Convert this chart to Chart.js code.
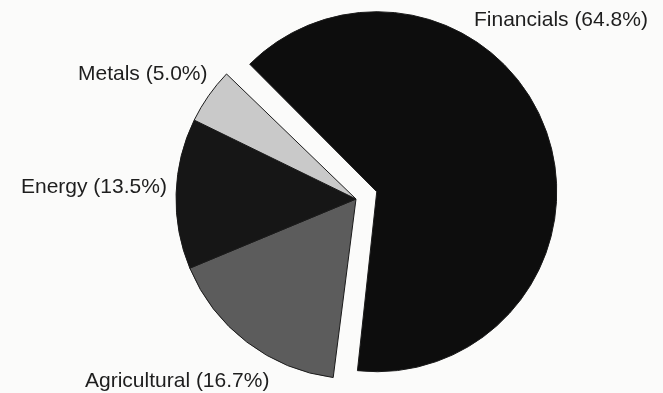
<!DOCTYPE html>
<html>
<head>
<meta charset="utf-8">
<script src="https://cdn.jsdelivr.net/npm/chart.js@4/dist/chart.umd.min.js"></script>
<style>
  html, body { margin: 0; padding: 0; background: #fbfbfa; }
  #wrap { width: 663px; height: 393px; position: relative; }
</style>
</head>
<body>
<div id="wrap"><canvas id="c"></canvas></div>
<script>
// ---- Data ----
const categories = ["Financials", "Agricultural", "Energy", "Metals"];
const shares = [64.8, 16.7, 13.5, 5.0];
const labelTexts = ["Financials (64.8%)", "Agricultural (16.7%)", "Energy (13.5%)", "Metals (5.0%)"];

// ---- Styling ----
const sliceColors = ["#0d0d0d", "#5c5c5c", "#161616", "#c9c9c9"];
const sliceOffsets = [88, 0, 0, 0];
const labelSpots = [
  { x: 474, y: 26 },
  { x: 85,  y: 387 },
  { x: 21,  y: 193 },
  { x: 78,  y: 80 }
];

// Chart.js grows an offset slice's radius by offset/4; keep the exploded slice the same size as the others.
const equalRadiusPlugin = {
  id: "equalRadius",
  beforeDatasetsDraw(chart) {
    const meta = chart.getDatasetMeta(0);
    const base = meta.controller.outerRadius;
    meta.data.forEach((arc, i) => {
      arc.outerRadius = base - (sliceOffsets[i] || 0) / 4;
    });
  }
};

const labelPlugin = {
  id: "sliceLabels",
  afterDraw(chart) {
    const ctx = chart.ctx;
    ctx.save();
    ctx.font = '21px "Liberation Sans", Arial, sans-serif';
    ctx.fillStyle = "#1e1e1e";
    ctx.textAlign = "left";
    ctx.textBaseline = "alphabetic";
    labelTexts.forEach((t, i) => {
      ctx.fillText(t, labelSpots[i].x, labelSpots[i].y);
    });
    ctx.restore();
  }
};

new Chart(document.getElementById("c"), {
  type: "pie",
  data: {
    labels: categories,
    datasets: [{
      data: shares,
      backgroundColor: sliceColors,
      borderColor: "#1a1a1a",
      borderWidth: 1,
      offset: sliceOffsets,
      hoverOffset: 0
    }]
  },
  options: {
    responsive: true,
    maintainAspectRatio: false,
    animation: false,
    rotation: -46,
    radius: 180,
    layout: { padding: { left: 49, right: 0, top: 5, bottom: 0 } },
    plugins: {
      legend: { display: false },
      tooltip: { enabled: false }
    }
  },
  plugins: [equalRadiusPlugin, labelPlugin]
});
</script>
</body>
</html>
